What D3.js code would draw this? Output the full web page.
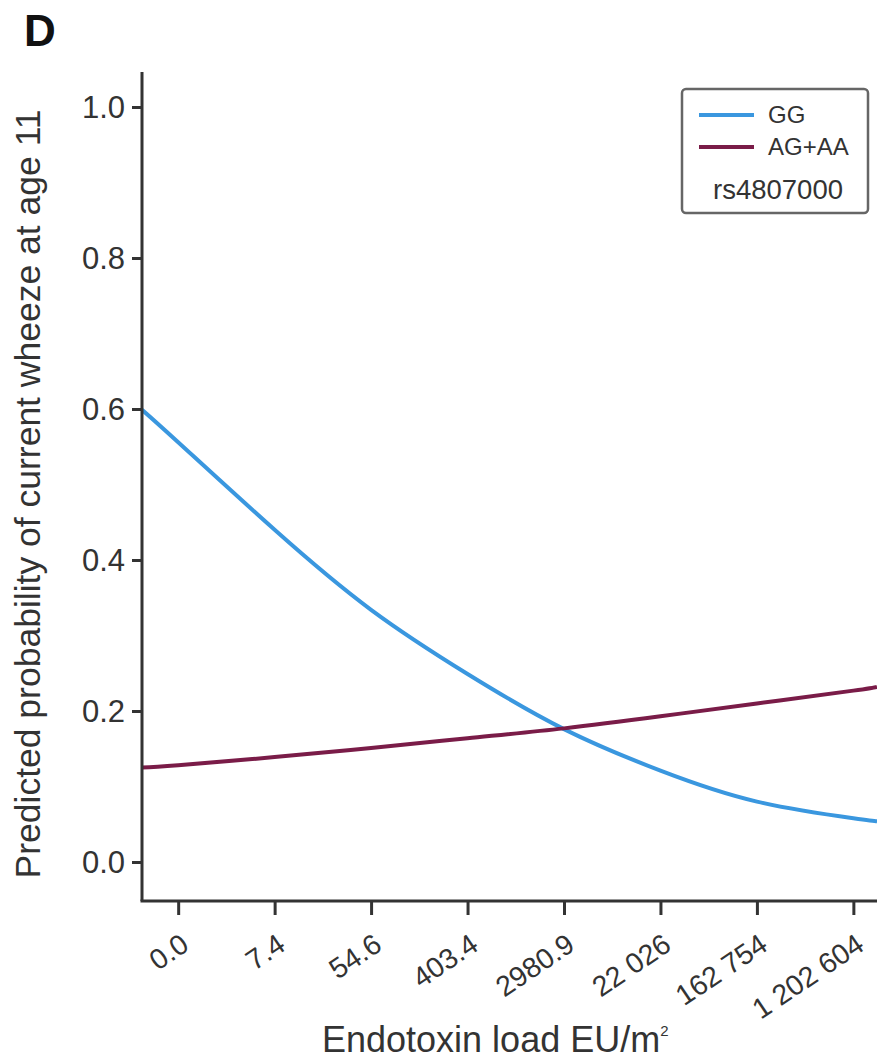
<!DOCTYPE html>
<html>
<head>
<meta charset="utf-8">
<script src="https://cdn.jsdelivr.net/npm/d3@7"></script>
<style>
  html, body { margin: 0; padding: 0; background: #fff; }
  svg { display: block; font-family: "Liberation Sans", Arial, sans-serif; }
</style>
</head>
<body>
<svg id="chart" width="877" height="1061"></svg>
<script>
// ln(endotoxin load) positions of the ticks and their printed labels
const xTicks = [0, 2, 4, 6, 8, 10, 12, 14];
const xTickLabels = ["0.0", "7.4", "54.6", "403.4", "2980.9", "22 026", "162 754", "1 202 604"];
const yTicks = [0.0, 0.2, 0.4, 0.6, 0.8, 1.0];

// predicted probability of current wheeze, by genotype
const lnLoad = [-0.75, 0, 2, 4, 6, 8, 10, 12, 14, 14.49];
const probGG = [0.599, 0.556, 0.440, 0.334, 0.249, 0.176, 0.121, 0.080, 0.058, 0.054];
const probAGAA = [0.125, 0.128, 0.139, 0.151, 0.164, 0.177, 0.193, 0.210, 0.227, 0.232];

const seriesNames = ["GG", "AG+AA"];
const seriesColors = ["#3a97df", "#7a1c48"];
const legendTitle = "rs4807000";

const svg = d3.select("#chart");
const W = 877;
const left = 142, xAxisY = 901, plotTop = 72;

const x = d3.scaleLinear().domain([-0.75, 14.49]).range([left, W]);
const y = d3.scaleLinear().domain([0, 1]).range([862, 107]);

const axisColor = "#333";
const textColor = "#333";

// panel letter
svg.append("text")
  .attr("x", 24).attr("y", 46)
  .attr("font-size", 44).attr("font-weight", "bold")
  .attr("fill", "#111")
  .text("D");

// curves
const line = d3.line()
  .x(d => x(d[0]))
  .y(d => y(d[1]))
  .curve(d3.curveNatural);

svg.append("defs").append("clipPath").attr("id", "plotclip")
  .append("rect").attr("x", left).attr("y", plotTop).attr("width", W - left).attr("height", xAxisY - plotTop);

const gLines = svg.append("g").attr("clip-path", "url(#plotclip)");
[probGG, probAGAA].forEach((vals, i) => {
  gLines.append("path")
    .datum(lnLoad.map((v, j) => [v, vals[j]]))
    .attr("fill", "none")
    .attr("stroke", seriesColors[i])
    .attr("stroke-width", 4)
    .attr("stroke-linejoin", "round")
    .attr("d", line);
});

// y axis
const yAxis = d3.axisLeft(y).tickValues(yTicks).tickFormat(d3.format(".1f")).tickSize(10).tickPadding(7);
const gy = svg.append("g").attr("transform", `translate(${left},0)`).call(yAxis);
gy.select(".domain").remove();
gy.append("line").attr("x1", 0).attr("x2", 0).attr("y1", plotTop).attr("y2", xAxisY)
  .attr("stroke", axisColor).attr("stroke-width", 3);
gy.selectAll(".tick line").attr("stroke", axisColor).attr("stroke-width", 3);
gy.selectAll(".tick text")
  .attr("font-size", 31).attr("fill", textColor)
  .attr("font-family", "Liberation Sans, Arial, sans-serif")
  .attr("dy", "0.35em");

// x axis
const xAxis = d3.axisBottom(x).tickValues(xTicks)
  .tickFormat((d, i) => xTickLabels[i]).tickSize(14);
const gx = svg.append("g").attr("transform", `translate(0,${xAxisY})`).call(xAxis);
gx.select(".domain").remove();
gx.append("line").attr("x1", left - 1.5).attr("x2", W).attr("y1", 0).attr("y2", 0)
  .attr("stroke", axisColor).attr("stroke-width", 3);
gx.selectAll(".tick line").attr("stroke", axisColor).attr("stroke-width", 3);
gx.selectAll(".tick text")
  .attr("font-size", 28.5).attr("fill", textColor)
  .attr("font-family", "Liberation Sans, Arial, sans-serif")
  .attr("text-anchor", "end")
  .attr("x", 0).attr("y", 0).attr("dy", 0)
  .attr("transform", "translate(12,48) rotate(-34)");

// axis titles
svg.append("text")
  .attr("transform", `translate(40,494) rotate(-90)`)
  .attr("text-anchor", "middle")
  .attr("font-size", 35.5).attr("fill", textColor)
  .text("Predicted probability of current wheeze at age 11");

const xt = svg.append("text")
  .attr("x", 322).attr("y", 1052)
  .attr("font-size", 36).attr("fill", textColor);
xt.append("tspan").text("Endotoxin load EU/m");
xt.append("tspan").attr("font-size", 15).attr("dy", -16).text("2");

// legend
const lg = svg.append("g").attr("transform", "translate(682,89)");
lg.append("rect").attr("width", 186).attr("height", 124).attr("rx", 4)
  .attr("fill", "#fff").attr("stroke", "#666").attr("stroke-width", 2.5);
seriesNames.forEach((name, i) => {
  const yy = 26 + i * 32;
  lg.append("line").attr("x1", 17).attr("x2", 72).attr("y1", yy).attr("y2", yy)
    .attr("stroke", seriesColors[i]).attr("stroke-width", 4);
  lg.append("text").attr("x", 86).attr("y", yy + 8)
    .attr("font-size", 24).attr("fill", textColor).text(name);
});
lg.append("text").attr("x", 96).attr("y", 110).attr("text-anchor", "middle")
  .attr("font-size", 27.5).attr("fill", textColor).text(legendTitle);
</script>
</body>
</html>
